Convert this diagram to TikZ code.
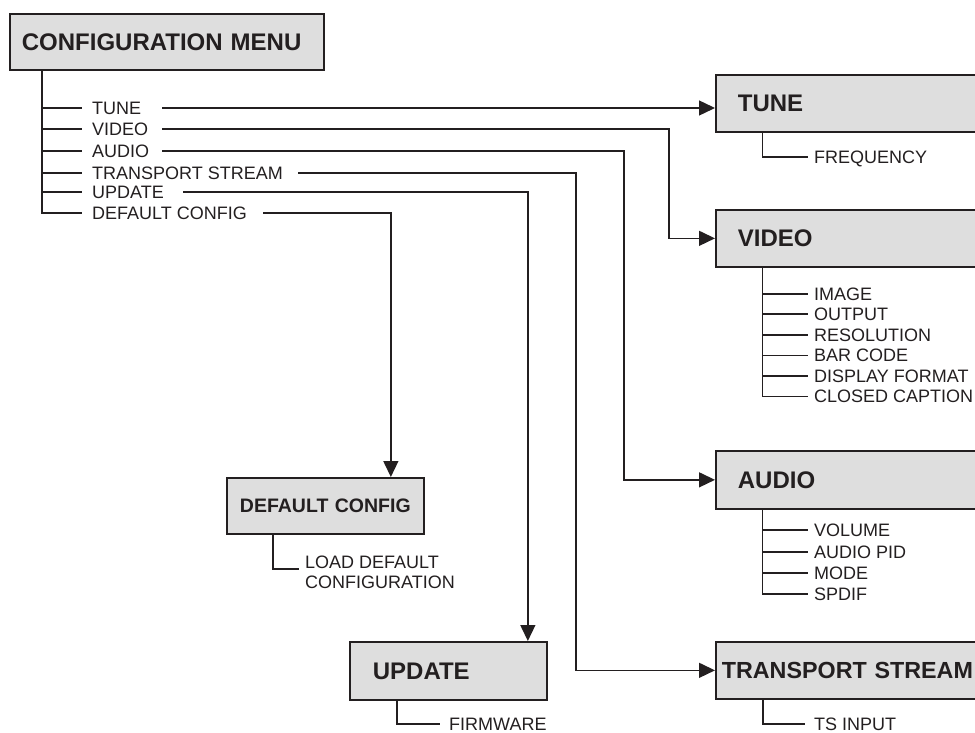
\documentclass[tikz,border=0pt]{standalone}
\usepackage{fontspec}
\setmainfont{Liberation Sans}
\usetikzlibrary{arrows.meta}
\definecolor{ink}{RGB}{35,31,32}
\definecolor{boxfill}{RGB}{222,222,222}
\tikzset{
 line/.style={draw=ink, line width=1.4pt},
 arr/.style={line, -{Triangle[length=16pt,width=15pt]}},
 hbox/.style={draw=ink, line width=1.7pt, fill=boxfill, anchor=north west,
   font=\bfseries\fontsize{24}{28}\selectfont, text=ink, text height=17.2pt,
   text depth=0pt, align=left, inner ysep=0pt},
 item/.style={anchor=west, inner sep=0pt, font=\fontsize{18}{20}\selectfont,
   text=ink, text height=12.9pt, text depth=0pt},
}
\begin{document}
\begin{tikzpicture}[x=1pt,y=-1pt]
\useasboundingbox (0,0) rectangle (975,733);
\clip (0,0) rectangle (975,733);

% main boxes
\node[hbox, inner xsep=12pt, text width=290pt, minimum height=56pt] (menu) at (9,13) {CONFIGURATION MENU};
\node[hbox, inner xsep=22pt, text width=253pt, minimum height=57pt] (tune) at (715,74) {TUNE};
\node[hbox, inner xsep=22pt, text width=253pt, minimum height=57pt] (video) at (715,209) {VIDEO};
\node[hbox, inner xsep=22pt, text width=253pt, minimum height=58pt] (audio) at (715,450) {AUDIO};
\node[hbox, inner xsep=6pt, text width=300pt, minimum height=57pt,
      font=\bfseries\fontsize{23.3}{28}\selectfont] (ts) at (715,641) {TRANSPORT STREAM};
\node[hbox, inner xsep=23pt, text width=151pt, minimum height=58pt] (update) at (349,641) {UPDATE};
\node[hbox, inner xsep=0pt, text width=197pt, align=center, minimum height=56pt,
      font=\bfseries\fontsize{19.5}{22}\selectfont, text height=14pt] (defcfg) at (226,477) {DEFAULT CONFIG};

% main menu items
\coordinate (trunk) at (42,0);
\node[item] (mTune) at (92,108) {TUNE};
\node[item] (mVideo) at (92,129) {VIDEO};
\node[item] (mAudio) at (92,151) {AUDIO};
\node[item] (mTS) at (92,173) {TRANSPORT STREAM};
\node[item] (mUpdate) at (92,192) {UPDATE};
\node[item] (mDef) at (92,213) {DEFAULT CONFIG};
\draw[line] ([xshift=33pt]menu.south west) |- ([xshift=-10pt]mDef.west);
\foreach \n in {mTune,mVideo,mAudio,mTS,mUpdate}
  \draw[line] (\n.west -| trunk) -- ([xshift=-10pt]\n.west);

% connector starts
\coordinate (sTune) at (162,108);
\coordinate (sVideo) at (162,129);
\coordinate (sAudio) at (162,151);
\coordinate (sTS) at (298,173);
\coordinate (sUpdate) at (183,192);
\coordinate (sDef) at (263,213);

\draw[arr] (sTune) -- (sTune -| tune.west);
\draw[arr] (sVideo) -| ([xshift=-46pt]video.west) -- (video.west);
\draw[arr] (sAudio) -| ([xshift=-91pt]audio.west) -- (audio.west);
\draw[arr] (sTS) -| ([xshift=-139pt]ts.west) -- (ts.west);
\draw[arr] (sUpdate) -| ([xshift=79.5pt]update.north);
\draw[arr] (sDef) -| ([xshift=65.5pt]defcfg.north);

% TUNE sub
\node[item] (tFreq) at (814,157) {FREQUENCY};
\draw[line] ([xshift=47.5pt]tune.south west) |- ([xshift=-6pt]tFreq.west);

% VIDEO sub
\node[item] (v1) at (814,294) {IMAGE};
\node[item] (v2) at (814,314) {OUTPUT};
\node[item] (v3) at (814,335) {RESOLUTION};
\node[item] (v4) at (814,355.5) {BAR CODE};
\node[item] (v5) at (814,376) {DISPLAY FORMAT};
\node[item] (v6) at (814,396.5) {CLOSED CAPTION};
\coordinate (vtrunk) at ([xshift=47.5pt]video.south west);
\draw[line] (vtrunk) |- ([xshift=-6pt]v6.west);
\foreach \n in {v1,v2,v3,v4,v5}
  \draw[line] (\n.west -| vtrunk) -- ([xshift=-6pt]\n.west);

% AUDIO sub
\node[item] (a1) at (814,530) {VOLUME};
\node[item] (a2) at (814,552) {AUDIO PID};
\node[item] (a3) at (814,573) {MODE};
\node[item] (a4) at (814,594) {SPDIF};
\coordinate (atrunk) at ([xshift=47.5pt]audio.south west);
\draw[line] (atrunk) |- ([xshift=-6pt]a4.west);
\foreach \n in {a1,a2,a3}
  \draw[line] (\n.west -| atrunk) -- ([xshift=-6pt]\n.west);

% TS sub
\node[item] (tsIn) at (814,724) {TS INPUT};
\draw[line] ([xshift=48pt]ts.south west) |- ([xshift=-9pt]tsIn.west);

% UPDATE sub
\node[item] (uFw) at (449,724) {FIRMWARE};
\draw[line] ([xshift=48pt]update.south west) |- ([xshift=-9pt]uFw.west);

% DEFAULT CONFIG sub
\node[anchor=west, inner sep=0pt, font=\fontsize{18}{20}\selectfont, text=ink, align=left] (dLoad) at (305,572) {LOAD DEFAULT\\CONFIGURATION};
\draw[line] ([xshift=47pt]defcfg.south west) |- ([xshift=-6pt,yshift=3pt]dLoad.west);
\end{tikzpicture}
\end{document}
